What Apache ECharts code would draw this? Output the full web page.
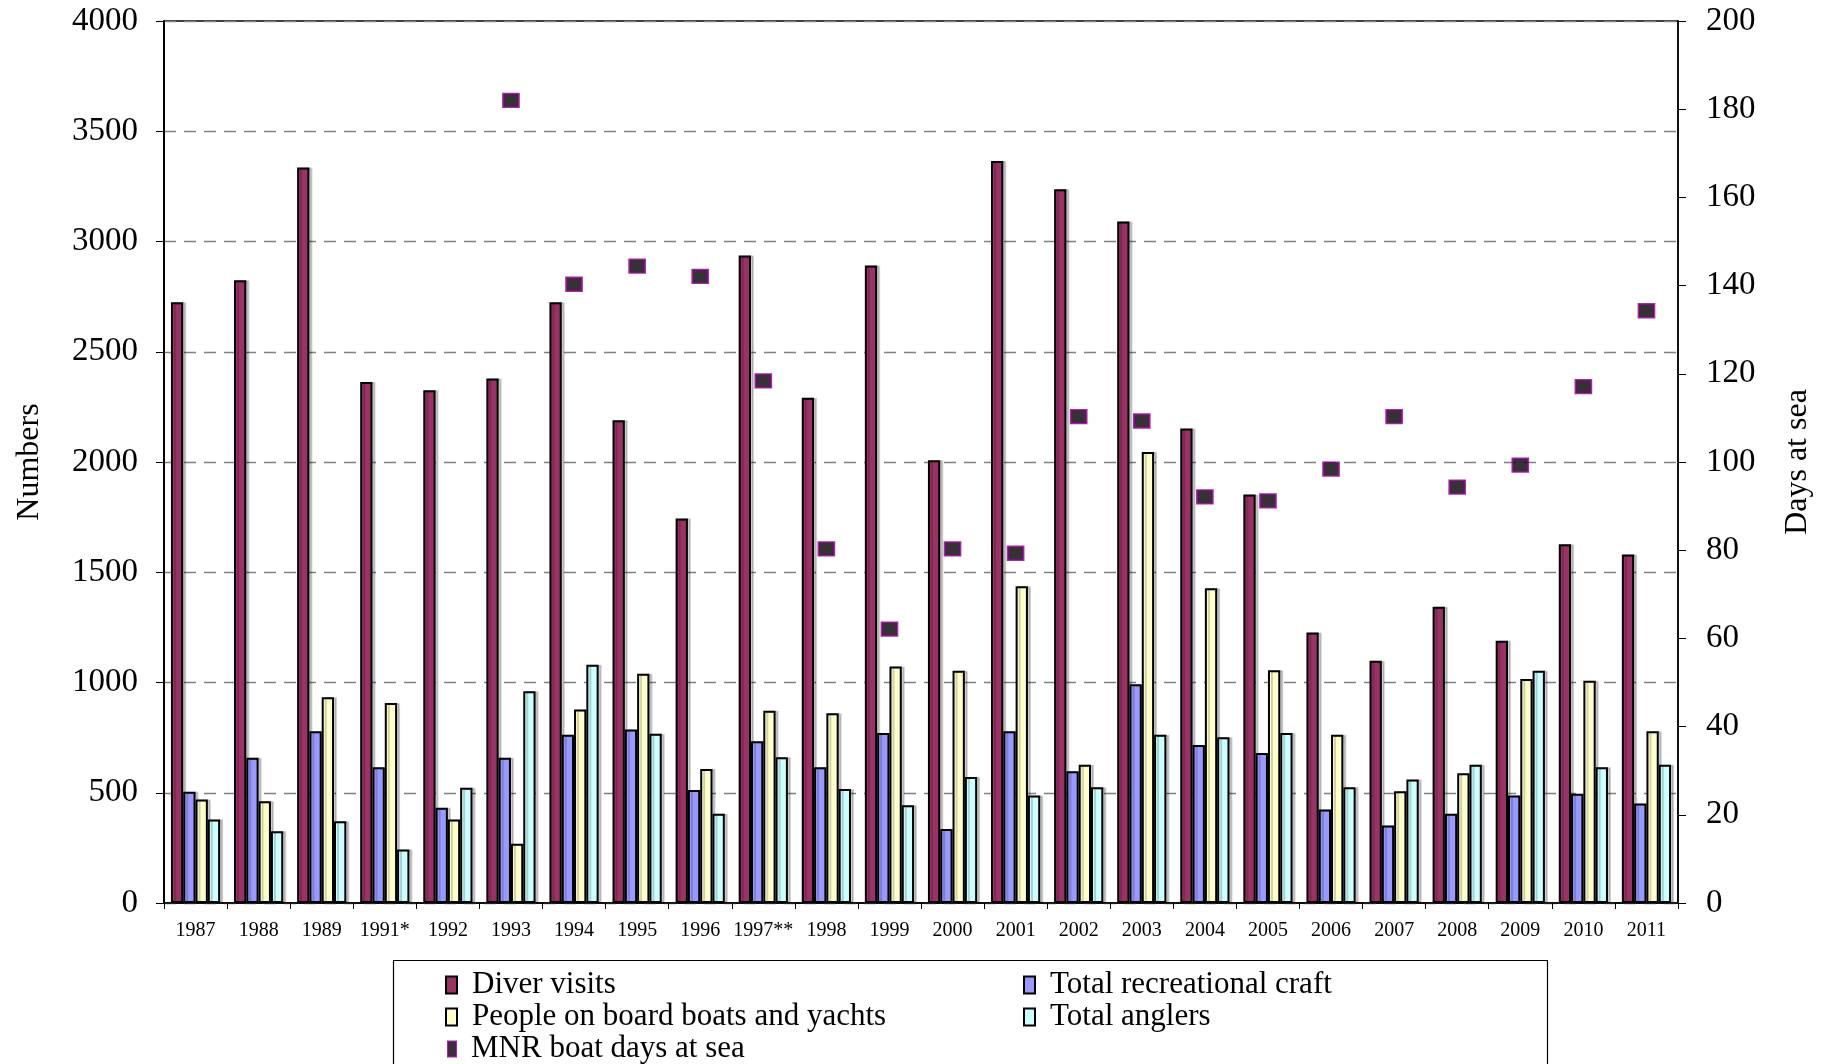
<!DOCTYPE html>
<html>
<head>
<meta charset="utf-8">
<script src="https://cdn.jsdelivr.net/npm/echarts@6/dist/echarts.min.js"></script>
<style>
html,body{margin:0;padding:0;background:#fff;}
#chart{width:1831px;height:1064px;}
</style>
</head>
<body>
<div id="chart"></div>
<script>
var years = ['1987','1988','1989','1991*','1992','1993','1994','1995','1996','1997**','1998','1999','2000','2001','2002','2003','2004','2005','2006','2007','2008','2009','2010','2011'];
var diverVisits = [2725,2824,3336,2363,2325,2379,2725,2189,1744,2936,2291,2891,2008,3365,3237,3091,2152,1853,1227,1099,1344,1189,1627,1581];
var recreationalCraft = [504,659,779,616,432,659,763,787,512,733,616,771,336,779,597,992,717,680,424,352,405,488,496,451];
var peopleOnBoard = [469,461,933,907,379,269,877,1040,608,872,861,1072,1053,1437,627,2045,1427,1056,763,507,589,1016,1008,779];
var totalAnglers = [379,325,371,243,523,960,1080,768,405,661,517,443,571,488,525,763,752,771,525,560,627,1053,616,627];
var mnrDays = [null,null,null,null,null,182,140.3,144.4,142.1,118.4,80.3,62.1,80.3,79.3,110.3,109.3,92.1,91.2,98.4,110.3,94.3,99.3,117.1,134.3];

var FONT = 'Liberation Serif';
var chart = echarts.init(document.getElementById('chart'), null, {renderer:'canvas'});

function barSeries(name, data, color) {
  return {
    name: name, type: 'bar', data: data, yAxisIndex: 0,
    barGap: '0%', barCategoryGap: '22%',
    itemStyle: { color: color, borderColor: '#000', borderWidth: 2,
      shadowColor: 'rgba(0,0,0,0.18)', shadowOffsetX: 3, shadowOffsetY: 0, shadowBlur: 0 },
    emphasis: { disabled: true }
  };
}

function legendAt(left, top, names, w, h) {
  return {
    left: left, top: top, orient: 'horizontal', itemGap: 0, padding: 0,
    itemWidth: w, itemHeight: h, icon: 'rect', height: 40, width: 700,
    data: names,
    textStyle: { fontFamily: FONT, fontSize: 31, color: '#000', lineHeight: 32, padding: [0,0,0,10] },
    itemStyle: { shadowBlur: 0, shadowOffsetX: 0, shadowColor: 'transparent' }
  };
}

var option = {
  animation: false,
  backgroundColor: '#fff',
  textStyle: { fontFamily: FONT, color: '#000' },
  grid: { left: 164, right: 153, top: 21, bottom: 161, show: true, borderColor: '#000', borderWidth: 1.5, backgroundColor: 'transparent' },
  legend: [
    legendAt(445, 969, ['Diver visits'], 11, 17),
    legendAt(445, 1001, ['People on board boats and yachts'], 11, 17),
    legendAt(447, 1033, ['MNR boat days at sea'], 8, 15),
    legendAt(1023, 969, ['Total recreational craft'], 11, 17),
    legendAt(1023, 1001, ['Total anglers'], 11, 17)
  ],
  graphic: [
    { type: 'rect', shape: { x: 393.5, y: 960.5, width: 1154, height: 120 },
      style: { fill: 'none', stroke: '#000', lineWidth: 1.2 }, z: 100, silent: true }
  ],
  xAxis: {
    type: 'category', data: years, boundaryGap: true,
    axisLine: { lineStyle: { color: '#000', width: 1.5 } },
    axisTick: { show: true, length: 6, inside: false, lineStyle: { color: '#000' } },
    axisLabel: { interval: 0, fontFamily: FONT, fontSize: 20, color: '#000', margin: 18 },
    splitLine: { show: false }
  },
  yAxis: [
    {
      type: 'value', min: 0, max: 4000, interval: 500, position: 'left',
      name: 'Numbers', nameLocation: 'middle', nameRotate: 90, nameGap: 118,
      nameTextStyle: { fontFamily: FONT, fontSize: 32, color: '#000' },
      axisLine: { show: true, lineStyle: { color: '#000', width: 2 } },
      axisTick: { show: true, length: 8, lineStyle: { color: '#000' } },
      axisLabel: { fontFamily: FONT, fontSize: 33, color: '#000', margin: 26, formatter: function (v) { return String(v); } },
      splitLine: { show: true, lineStyle: { color: '#808080', type: [12, 8], width: 1.3 } }
    },
    {
      type: 'value', min: 0, max: 200, interval: 20, position: 'right',
      name: 'Days at sea', nameLocation: 'middle', nameRotate: 90, nameGap: 104,
      nameTextStyle: { fontFamily: FONT, fontSize: 32, color: '#000' },
      axisLine: { show: true, lineStyle: { color: '#000', width: 1.5 } },
      axisTick: { show: true, length: 8, lineStyle: { color: '#000' } },
      axisLabel: { fontFamily: FONT, fontSize: 33, color: '#000', margin: 28, formatter: function (v) { return String(v); } },
      splitLine: { show: false }
    }
  ],
  series: [
    barSeries('Diver visits', diverVisits, '#993366'),
    barSeries('Total recreational craft', recreationalCraft, '#9999FF'),
    barSeries('People on board boats and yachts', peopleOnBoard, '#FFFFCC'),
    barSeries('Total anglers', totalAnglers, '#CCFFFF'),
    {
      name: 'MNR boat days at sea', type: 'scatter', yAxisIndex: 1, data: mnrDays,
      symbol: 'rect', symbolSize: [15, 13],
      itemStyle: { color: '#000', borderColor: '#800080', borderWidth: 2.5 },
      emphasis: { disabled: true }, z: 10
    }
  ]
};
chart.setOption(option);
</script>
</body>
</html>
